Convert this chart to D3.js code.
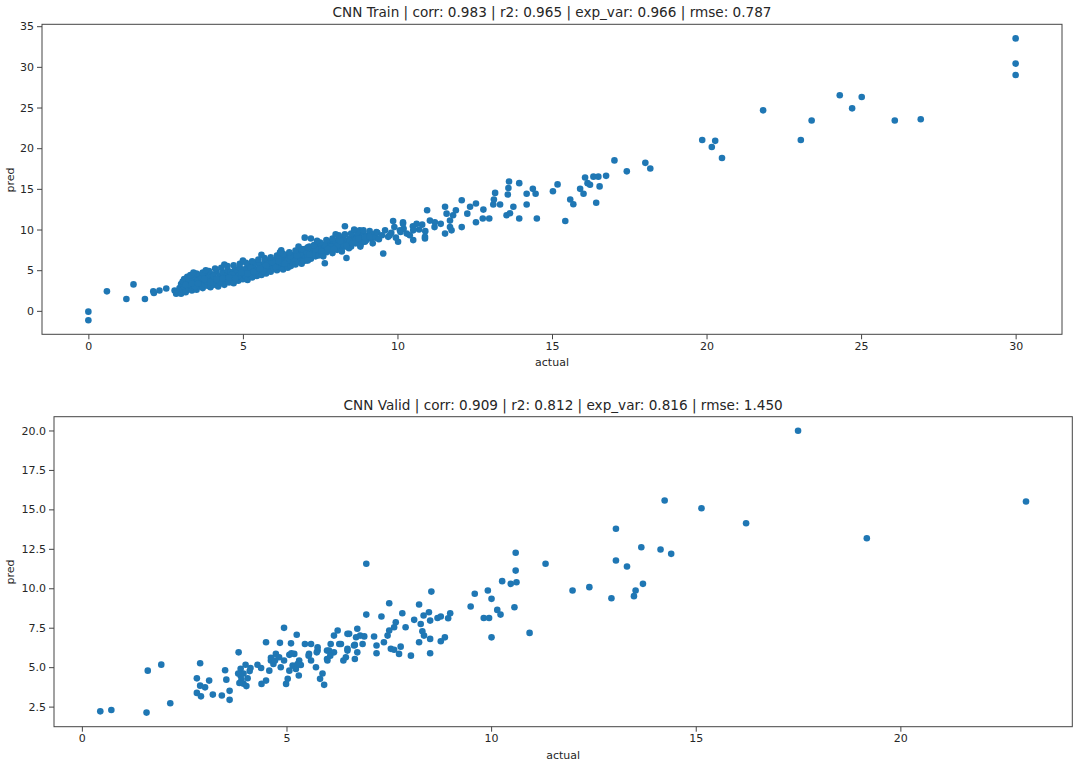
<!DOCTYPE html>
<html><head><meta charset="utf-8">
<script src="https://cdn.jsdelivr.net/npm/d3@7"></script>
<style>body{margin:0;background:#fff;} text{font-family:"DejaVu Sans",sans-serif;}</style>
</head><body><svg id="c" width="1080" height="765"></svg>
<script>
const trainTitle = "CNN Train | corr: 0.983 | r2: 0.965 | exp_var: 0.966 | rmse: 0.787";
const validTitle = "CNN Valid | corr: 0.909 | r2: 0.812 | exp_var: 0.816 | rmse: 1.450";
const xLabel = "actual";
const yLabel = "pred";

const trainPoints = [
[0,-0.1],[0,-1.15],[0.6,2.4],[1.23,1.45],[1.46,3.25],[1.83,1.45],[2.1,2.4],[2.12,2.2],[2.3,2.5],[2.52,2.75],[2.79,2.5],[2.84,2.1],
[2.9,2.3],[2.95,2.8],[3.0,2.1],[3.0,3.3],[3.05,2.6],[3.1,3.9],[3.1,2.9],[3.15,2.3],[3.2,3.5],[3.2,4.2],[3.25,2.7],[3.3,3.1],[3.3,4.0],[3.35,2.5],[3.4,3.6],[3.4,2.9],[3.45,4.3],[3.5,3.2],[3.5,2.6],[3.55,3.8],
[3.6,3.0],[3.6,4.4],[3.65,3.5],[3.7,2.8],[3.7,4.0],[3.75,3.3],[3.8,3.7],[3.8,4.6],[3.85,3.1],[3.9,4.1],[3.9,3.4],[3.95,2.9],[4.0,3.8],[4.0,4.5],[4.05,3.2],[4.1,4.0],[4.1,3.5],[4.15,4.8],[4.2,3.7],[4.2,3.0],[4.25,4.3],[4.3,3.9],[4.3,3.4],[4.35,4.7],[4.4,4.1],[4.4,3.2],[4.45,3.7],[4.5,4.4],[4.5,3.9],[4.5,5.0],
[4.55,3.5],[4.6,4.2],[4.6,4.8],[4.65,3.8],[4.7,4.5],[4.7,3.4],[4.75,5.1],[4.8,4.1],[4.8,4.7],[4.85,3.7],[4.9,4.4],[4.9,5.3],[4.95,4.0],[5.0,4.8],[5.0,3.9],[5.05,4.5],[5.1,5.2],[5.1,4.2],[5.15,3.8],[5.2,4.9],[5.2,5.6],[5.25,4.4],[5.3,5.0],[5.3,4.1],[5.35,5.5],[5.4,4.7],[5.4,5.9],[5.45,4.3],[5.5,5.1],[5.5,4.6],
[5.55,5.7],[5.6,4.9],[5.6,4.4],[5.65,5.3],[5.7,6.0],[5.7,5.0],[5.75,4.6],[5.8,5.5],[5.8,6.2],[5.85,5.1],[5.9,5.8],[5.9,4.8],[5.95,5.4],[6.0,6.1],[6.0,5.2],[6.05,5.7],[6.1,6.4],[6.1,5.0],[6.15,5.5],[6.2,6.0],[6.2,5.3],[6.25,6.5],[6.24,7.45],[6.3,5.7],[6.3,5.1],[6.35,6.2],[6.4,5.6],[6.4,6.8],[6.45,5.3],[6.5,6.0],[6.5,6.5],
[6.55,5.5],[6.6,6.3],[6.6,5.9],[6.65,6.9],[6.7,5.7],[6.7,6.5],[6.75,6.1],[6.8,7.2],[6.8,6.0],[6.85,6.6],[6.9,5.8],[6.9,7.0],[6.95,6.4],[7.0,6.8],[7.0,7.6],[7.0,9.0],[7.05,6.2],[7.1,7.1],[7.1,6.6],[7.15,7.9],[7.2,6.9],[7.2,8.9],[7.2,6.4],[7.25,7.4],[7.3,7.0],[7.35,6.7],[7.4,7.8],[7.4,7.3],[7.45,6.8],[7.5,7.6],[7.5,8.2],
[7.55,7.0],[7.6,7.5],[7.65,7.9],[7.65,5.85],[7.7,7.2],[7.7,8.3],[7.8,7.7],[7.8,8.5],[7.85,7.4],[7.9,8.0],[7.9,7.1],[7.95,8.6],[8.0,7.8],[8.0,8.3],[8.05,7.5],[8.1,8.8],[8.1,8.1],[8.15,7.6],[8.2,8.4],[8.25,9.0],[8.3,7.9],[8.3,8.6],[8.3,10.4],[8.4,8.2],[8.43,7.7],[8.45,8.9],[8.5,7.9],[8.5,8.5],[8.35,6.5],[8.6,9.1],
[8.65,8.3],[8.7,8.7],[8.75,9.4],[8.78,9.9],[8.8,8.1],[8.85,8.9],[8.9,9.6],[8.95,8.5],[9.0,9.2],[9.0,8.7],[9.1,9.8],[9.15,8.9],[9.2,9.4],[9.3,9.0],[9.32,9.7],[9.35,9.6],[9.4,8.8],[9.5,9.3],[9.6,9.9],[9.7,9.1],[9.8,9.6],[9.9,10.3],[9.95,9.0],[10.1,9.7],[10.2,10.1],[10.3,9.5],[10.5,10.4],[10.7,10.0],[10.8,10.6],[10.9,9.8],[11.2,10.3],[11.4,10.7],
[3.05,3.6],[3.25,3.9],[3.45,3.0],[3.65,4.1],[3.85,3.6],[4.05,4.3],[4.25,3.6],[4.45,4.0],[4.65,4.5],[4.85,4.3],[5.05,5.0],[5.25,5.3],[5.45,5.0],[5.65,4.9],[5.85,5.9],[6.05,5.4],[6.25,5.9],[6.45,6.2],[6.65,6.4],[6.85,7.0],[7.05,7.3],[7.25,7.0],[7.45,7.5],[7.65,8.1],[7.85,7.9],[8.05,8.0],[8.25,8.2],[8.45,8.6],[8.65,8.8],[8.85,8.4],
[3.15,3.2],[3.35,3.4],[3.55,3.4],[3.75,3.9],[3.95,3.5],[4.15,3.9],[4.35,4.0],[4.55,4.1],[4.75,4.0],[4.95,4.7],[5.15,4.6],[5.35,4.8],[5.55,5.2],[5.75,5.6],[5.95,6.0],[6.15,6.1],[6.35,5.8],[6.55,6.7],[6.75,6.8],[6.95,6.1],[7.15,6.9],[7.35,7.6],[7.55,7.3],[7.75,7.6],[7.95,7.6],[8.15,8.6],[8.35,8.0],[8.55,8.3],[8.75,8.9],[8.95,9.0],
[3.3,4.4],[3.5,4.6],[3.7,4.7],[3.9,4.9],[4.1,5.2],[4.3,5.3],[4.5,5.5],[4.7,5.6],[4.9,5.8],[5.1,5.9],[5.3,6.1],[5.5,6.3],[5.7,6.5],[5.9,6.6],[6.1,6.8],[6.3,7.0],[6.5,7.2],[6.7,7.4],[6.9,7.6],[7.1,7.8],[7.3,8.1],[7.5,8.4],[7.7,8.7],[7.9,8.9],[8.1,9.3],[8.3,9.4],[8.5,9.5],[8.7,9.6],[8.9,9.9],
[3.4,4.7],[3.8,5.0],[4.4,5.7],[5.0,6.2],[5.6,6.9],[6.2,7.2],[6.8,7.9],[7.4,8.6],[8.0,9.4],[8.6,10.0],[7.1,6.2],[7.6,6.7],[8.2,7.3],[8.8,7.9],[9.2,8.3],
[9.1,9.1],[9.54,7.05],[9.75,9.3],[9.86,11.05],[10.02,8.5],[10.08,9.9],[10.18,10.9],[10.18,10.7],[10.4,9.3],[10.51,9.9],[10.51,8.7],[10.62,10.7],[10.89,8.9],[10.89,9.1],[10.96,12.37],[11.05,11.1],[11.21,10.9],
[11.54,12.8],[11.59,11.95],[11.54,9.5],[11.7,10.3],[11.75,9.9],[11.7,11.1],[11.8,11.75],[11.89,12.37],[12.08,13.6],[12.08,10.3],[12.26,11.95],[12.35,12.8],[12.54,13.2],[12.54,10.9],[12.76,11.35],[12.78,12.45],[12.97,11.35],
[13.1,13.07],[13.12,13.7],[13.16,14.5],[13.32,13.07],[13.53,11.75],[13.57,14.3],[13.59,15.1],[13.61,15.9],[13.64,12.0],[13.75,12.8],[13.94,15.7],[13.94,11.35],[14.18,14.4],[14.18,13.07],[14.38,15.0],[14.47,14.4],[14.51,11.35],
[15.03,14.7],[15.18,15.55],[15.43,11.05],[15.59,13.7],[15.69,13.1],[15.91,15.0],[16.02,14.4],[16.07,16.4],[16.15,15.7],[16.23,15.5],[16.34,16.5],[16.43,13.3],[16.5,16.5],[16.54,15.3],[16.75,16.6],[17.02,18.5],[17.42,17.15],[18.02,18.2],[18.18,17.5],
[19.86,21.0],[20.17,20.14],[20.28,20.9],[20.5,18.8],[21.83,24.65],[23.05,21.0],[23.4,23.4],[24.31,26.5],[24.71,24.9],[25.02,26.3],[26.09,23.4],[26.93,23.55],[30,33.5],[30,30.4],[30,29.0]
];

const validPoints = [
[0.45,2.2],[0.72,2.29],[1.58,2.12],[1.61,4.78],[1.94,5.16],[2.16,2.71],
[2.81,4.29],[2.89,5.25],[2.81,3.37],[2.89,3.83],[2.91,3.15],[3.01,3.72],[3.11,4.15],[3.2,3.26],[3.42,3.2],[3.5,4.8],[3.53,4.21],[3.61,3.5],[3.61,2.93],[3.83,5.94],
[3.88,4.9],[3.95,4.6],[4.0,5.15],[3.88,4.45],[4.05,4.3],[3.95,3.95],[4.1,4.75],[4.12,4.95],[3.82,4.6],[3.9,4.2],[4.02,3.8],[3.85,4.0],
[4.29,5.15],[4.38,4.95],[4.39,3.94],[4.5,4.15],[4.5,6.58],[4.58,4.78],[4.62,5.42],[4.68,5.2],[4.74,5.84],[4.82,5.63],[4.84,6.54],[4.86,4.99],[4.94,7.49],[4.94,5.42],[4.99,3.94],[5.03,4.26],[5.07,5.78],[5.07,4.78],[5.11,6.51],[5.15,5.1],[5.19,5.84],[5.12,5.88],[5.23,4.89],[5.25,7.05],[5.3,4.47],[5.31,5.42],[5.35,5.14],[5.27,5.2],[4.62,5.59],[4.72,5.42],
[5.45,6.47],[5.55,5.84],[5.6,6.47],[5.6,5.42],[5.54,5.73],[5.72,4.99],[5.76,6.05],[5.74,5.94],[5.76,6.26],[5.88,4.6],[5.82,4.26],[5.92,3.88],[5.99,5.52],[5.99,6.05],[6.04,6.05],[6.08,6.47],[6.16,7.0],[6.25,7.32],[6.29,6.47],[6.33,6.47],[6.16,5.94],[6.0,5.42],[6.07,5.73],[6.39,5.42],[6.45,5.63],[6.49,6.05],[6.53,7.11],[6.67,6.41],[6.67,5.52],[6.73,7.43],
[6.49,7.11],[6.49,6.16],[6.65,6.37],[6.73,5.94],[6.7,6.9],[6.8,7.0],[6.9,6.95],[6.86,6.47],[6.95,11.55],[6.95,8.33],[7.14,6.94],[7.2,6.37],[7.2,5.88],[7.32,8.21],[7.38,6.58],[7.47,7.0],[7.51,7.32],[7.51,9.05],[7.55,6.16],[7.63,6.1],[7.63,7.53],[7.67,7.85],[7.75,5.84],[7.79,6.3],[7.83,8.42],[7.91,7.53],[8.04,5.73],[8.12,8.0],[8.24,8.97],[8.24,6.58],[8.28,7.74],[8.32,7.28],[8.35,8.27],[8.36,7.0],[8.48,8.48],[8.51,7.95],[8.51,6.79],[8.51,5.88],[8.54,9.79],[8.69,8.12],[8.77,8.21],[8.77,6.64],[8.87,6.89],[8.95,8.1],[9.0,8.42],
[9.5,8.84],[9.6,9.65],[9.82,8.12],[9.95,8.12],[9.92,9.86],[10.01,9.33],[10.15,8.63],[10.23,8.33],[10.01,6.89],[10.27,10.45],[10.48,10.28],[10.62,10.38],[10.6,11.12],[10.6,12.25],[10.57,8.8],[10.94,7.17],[11.33,11.55],[11.99,9.86],[12.4,10.07],[12.94,9.37],[13.05,13.77],[13.05,11.76],[13.32,11.38],[13.49,9.5],[13.53,9.86],[13.71,10.28],[13.67,12.6],[14.14,12.46],[14.4,12.18],[14.24,15.56],[15.14,15.07],[16.23,14.12],[17.5,19.98],[19.18,13.17],[23.07,15.5]
];

const trainXTicks = [0,5,10,15,20,25,30];
const trainYTicks = [0,5,10,15,20,25,30,35];
const validXTicks = [0,5,10,15,20];
const validYTicks = [2.5,5,7.5,10,12.5,15,17.5,20];

const svg = d3.select("#c");
const AX = "#444", TXT = "#262626", DOT = "#1f77b4";

function padDomain(ext){ const m = (ext[1]-ext[0])*0.05; return [ext[0]-m, ext[1]+m]; }

function panel(box, pts, title, xt, yt, yfmt, yLabelY){
  const x = d3.scaleLinear().domain(padDomain(d3.extent(pts, d=>d[0]))).range([box.l, box.r]);
  const y = d3.scaleLinear().domain(padDomain(d3.extent(pts, d=>d[1]))).range([box.b, box.t]);
  const g = svg.append("g");
  g.append("g").selectAll("circle").data(pts).join("circle")
    .attr("cx", d=>x(d[0])).attr("cy", d=>y(d[1])).attr("r", 3.3).attr("fill", DOT);
  g.append("rect").attr("x", box.l).attr("y", box.t).attr("width", box.r-box.l).attr("height", box.b-box.t)
    .attr("fill","none").attr("stroke",AX).attr("stroke-width",1);
  const xa = g.append("g").attr("transform",`translate(0,${box.b})`)
    .call(d3.axisBottom(x).tickValues(xt).tickSize(5).tickPadding(3).tickFormat(d3.format("d")));
  const ya = g.append("g").attr("transform",`translate(${box.l},0)`)
    .call(d3.axisLeft(y).tickValues(yt).tickSize(5).tickPadding(3).tickFormat(yfmt));
  [xa,ya].forEach(a=>{
    a.select(".domain").remove();
    a.selectAll("line").attr("stroke",AX);
    a.selectAll("text").attr("fill",TXT).style("font-size","11px").style("font-family","DejaVu Sans, sans-serif");
  });
  const cx = (box.l+box.r)/2;
  g.append("text").attr("x",cx).attr("y",box.t-7).attr("text-anchor","middle")
    .attr("fill",TXT).style("font-size","13.6px").text(title);
  g.append("text").attr("x",cx).attr("y",box.b+32).attr("text-anchor","middle")
    .attr("fill",TXT).style("font-size","11px").text(xLabel);
  g.append("text").attr("transform",`translate(14,${yLabelY}) rotate(-90)`).attr("text-anchor","middle")
    .attr("fill",TXT).style("font-size","11px").text(yLabel);
}

panel({l:42,r:1062,t:24.3,b:334.3}, trainPoints, trainTitle, trainXTicks, trainYTicks, d3.format("d"), 180);
panel({l:54,r:1072.3,t:416.7,b:726.7}, validPoints, validTitle, validXTicks, validYTicks, d3.format(".1f"), 572);
</script></body></html>
